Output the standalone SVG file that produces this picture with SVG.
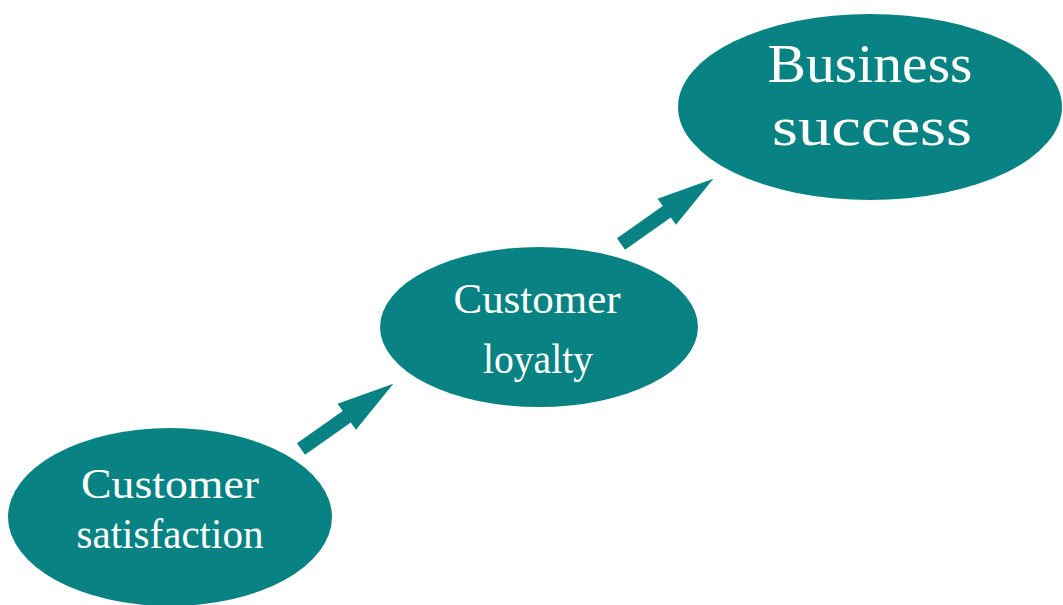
<svg xmlns="http://www.w3.org/2000/svg" xmlns:xlink="http://www.w3.org/1999/xlink" width="1063" height="605" viewBox="0 0 1063 605">
  <style>
    .node { fill: #088283; }
    .label { fill: #ffffff; font-family: "Liberation Serif", "DejaVu Serif", serif; text-anchor: middle; }
    .arrow { fill: #088283; }
  </style>
  <defs>
    <!-- block arrow pointing along +x, tail at origin -->
    <polygon id="blockArrow" points="0,-7 56,-7 56,-16 113,0 56,16 56,7 0,7"/>
  </defs>
  <rect width="1063" height="605" fill="#ffffff"/>

  <g id="connectors">
    <use xlink:href="#blockArrow" class="arrow" transform="translate(301,449) rotate(-35.2)"/>
    <use xlink:href="#blockArrow" class="arrow" transform="translate(621,244) rotate(-35.2)"/>
  </g>

  <g id="customer-satisfaction">
    <ellipse class="node" cx="170" cy="517" rx="162" ry="89"/>
    <text class="label" x="170" y="498" font-size="42" textLength="178" lengthAdjust="spacingAndGlyphs">Customer</text>
    <text class="label" x="170" y="548" font-size="42" textLength="187" lengthAdjust="spacingAndGlyphs">satisfaction</text>
  </g>

  <g id="customer-loyalty">
    <ellipse class="node" cx="539" cy="327" rx="159" ry="80"/>
    <text class="label" x="537" y="313" font-size="42" textLength="167" lengthAdjust="spacingAndGlyphs">Customer</text>
    <text class="label" x="538" y="373" font-size="42" textLength="110" lengthAdjust="spacingAndGlyphs">loyalty</text>
  </g>

  <g id="business-success">
    <ellipse class="node" cx="870" cy="107" rx="192" ry="93"/>
    <text class="label" x="870" y="82" font-size="55" textLength="205" lengthAdjust="spacingAndGlyphs">Business</text>
    <text class="label" x="872" y="145" font-size="55" textLength="200" lengthAdjust="spacingAndGlyphs">success</text>
  </g>
</svg>
